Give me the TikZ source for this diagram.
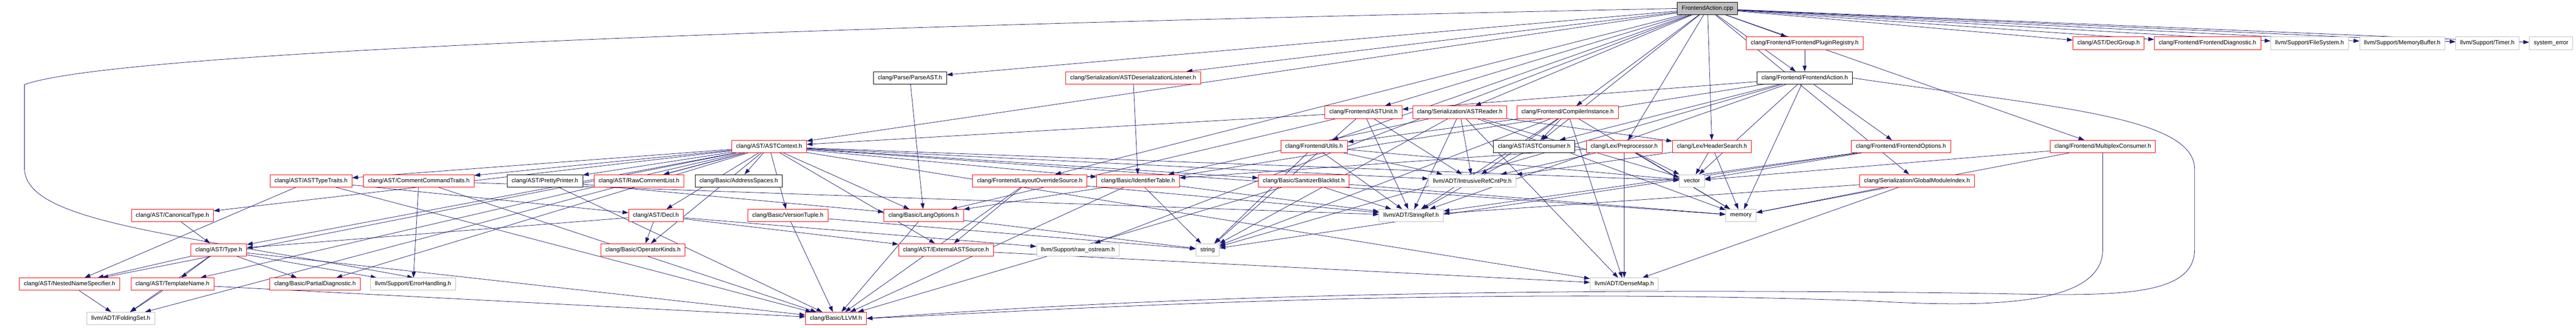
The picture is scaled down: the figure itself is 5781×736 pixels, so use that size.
\documentclass[tikz,border=0pt]{standalone}
\usepackage{fontspec}
\setmainfont{Liberation Sans}
\usetikzlibrary{arrows.meta,backgrounds}

\definecolor{edgeblue}{HTML}{191970}
\definecolor{extgray}{HTML}{BFBFBF}

\tikzset{
  hdr/.style={rectangle, draw=red, line width=1pt, fill=white, minimum height=28pt,
    inner xsep=10pt, inner ysep=0pt, font=\fontsize{13.3pt}{16pt}\selectfont},
  fullhdr/.style={hdr, draw=black},
  exthdr/.style={hdr, draw=extgray},
  srcfile/.style={hdr, draw=black, fill=extgray},
  incl/.style={draw=edgeblue, line width=0.9pt, -{Triangle[length=13pt,width=9pt]}}
}

\begin{document}
\begin{tikzpicture}[x=1pt,y=-1pt]
    \useasboundingbox (0,0) rectangle (5781,736);
    % the source file
    \node[srcfile] (cpp) at (3832,19) {FrontendAction.cpp};
    % row 1
    \node[hdr] (plugreg) at (4050,97) {clang/Frontend/FrontendPluginRegistry.h};
    \node[hdr] (declgrp) at (4732,97) {clang/AST/DeclGroup.h};
    \node[hdr] (fediag) at (4954,97) {clang/Frontend/FrontendDiagnostic.h};
    \node[exthdr] (filesys) at (5183,97) {llvm/Support/FileSystem.h};
    \node[exthdr] (membuf) at (5391,97) {llvm/Support/MemoryBuffer.h};
    \node[exthdr] (timer) at (5582,97) {llvm/Support/Timer.h};
    \node[exthdr] (syserr) at (5725,97) {system\_error};
    % row 2
    \node[fullhdr] (parseast) at (2042,175) {clang/Parse/ParseAST.h};
    \node[hdr] (deserial) at (2543,175) {clang/Serialization/ASTDeserializationListener.h};
    \node[fullhdr] (feaction) at (4050,175) {clang/Frontend/FrontendAction.h};
    % row 3
    \node[hdr] (astunit) at (3060,252) {clang/Frontend/ASTUnit.h};
    \node[hdr] (astreader) at (3276,252) {clang/Serialization/ASTReader.h};
    \node[hdr] (compinst) at (3518,252) {clang/Frontend/CompilerInstance.h};
    % row 4
    \node[hdr] (astctx) at (1726,329) {clang/AST/ASTContext.h};
    \node[hdr] (feutils) at (2949,329) {clang/Frontend/Utils.h};
    \node[fullhdr] (astcons) at (3443,329) {clang/AST/ASTConsumer.h};
    \node[hdr] (pp) at (3645,329) {clang/Lex/Preprocessor.h};
    \node[hdr] (hsearch) at (3842,329) {clang/Lex/HeaderSearch.h};
    \node[hdr] (feopts) at (4266,329) {clang/Frontend/FrontendOptions.h};
    \node[hdr] (multiplex) at (4719,329) {clang/Frontend/MultiplexConsumer.h};
    % row 5
    \node[hdr] (typetraits) at (698,406) {clang/AST/ASTTypeTraits.h};
    \node[hdr] (cmdtraits) at (940,406) {clang/AST/CommentCommandTraits.h};
    \node[fullhdr] (pretty) at (1223,406) {clang/AST/PrettyPrinter.h};
    \node[hdr] (rawcmt) at (1434,406) {clang/AST/RawCommentList.h};
    \node[fullhdr] (addrsp) at (1658,406) {clang/Basic/AddressSpaces.h};
    \node[hdr] (layout) at (2311,406) {clang/Frontend/LayoutOverrideSource.h};
    \node[hdr] (identtab) at (2554,406) {clang/Basic/IdentifierTable.h};
    \node[hdr] (sanbl) at (2926,406) {clang/Basic/SanitizerBlacklist.h};
    \node[exthdr] (refcnt) at (3304,406) {llvm/ADT/IntrusiveRefCntPtr.h};
    \node[exthdr] (vector) at (3797,406) {vector};
    \node[hdr] (gmi) at (4302,406) {clang/Serialization/GlobalModuleIndex.h};
    % row 6
    \node[hdr] (canon) at (387,484) {clang/AST/CanonicalType.h};
    \node[hdr] (decl) at (1472,484) {clang/AST/Decl.h};
    \node[hdr] (version) at (1768,484) {clang/Basic/VersionTuple.h};
    \node[hdr] (langopts) at (2073,484) {clang/Basic/LangOptions.h};
    \node[exthdr] (strref) at (3167,484) {llvm/ADT/StringRef.h};
    \node[exthdr] (memory) at (3907,484) {memory};
    % row 7
    \node[hdr] (type) at (491,561) {clang/AST/Type.h};
    \node[hdr] (opkinds) at (1443,561) {clang/Basic/OperatorKinds.h};
    \node[hdr] (extsrc) at (2123,561) {clang/AST/ExternalASTSource.h};
    \node[exthdr] (rawos) at (2419,561) {llvm/Support/raw\_ostream.h};
    \node[exthdr] (string) at (2710,561) {string};
    % row 8
    \node[hdr] (nns) at (156,638) {clang/AST/NestedNameSpecifier.h};
    \node[hdr] (tmplname) at (387,638) {clang/AST/TemplateName.h};
    \node[hdr] (partdiag) at (707,638) {clang/Basic/PartialDiagnostic.h};
    \node[exthdr] (errhand) at (927,638) {llvm/Support/ErrorHandling.h};
    \node[exthdr] (densemap) at (3645,638) {llvm/ADT/DenseMap.h};
    % row 9
    \node[exthdr] (folding) at (271,715) {llvm/ADT/FoldingSet.h};
    \node[hdr] (llvmh) at (1876,715) {clang/Basic/LLVM.h};
    % draw include edges behind the boxes
    \begin{scope}[on background layer]
        % FrontendAction.cpp
        \foreach \t in {plugreg,declgrp,fediag,filesys,membuf,timer,syserr,parseast,deserial,feaction,astunit,astreader,compinst,astctx,feutils,astcons,pp,hsearch,multiplex,layout,gmi,rawos}
            \draw[incl] (cpp) -- (\t);
        \draw[incl] (cpp.west) .. controls (2500,45) and (300,100) .. (55,190) -- (55,380)
            .. controls (60,500) and (400,525) .. (errhand.north);
        % frontend headers
        \draw[incl] (plugreg) -- (feaction);
        \foreach \t in {astunit,astcons,feopts,langopts,strref,memory,string,vector}
            \draw[incl] (feaction) -- (\t);
        \draw[incl] (feaction.east) .. controls (4600,240) and (4925,260) .. (4925,380) -- (4925,560)
            .. controls (4925,680) and (4700,662) .. (4400,658) .. controls (3000,640) and (2300,690) .. (llvmh.east);
        \foreach \t in {astctx,langopts,refcnt,strref,string}
            \draw[incl] (astunit) -- (\t);
        \foreach \t in {hsearch,identtab,densemap,refcnt,strref,memory,string,vector}
            \draw[incl] (astreader) -- (\t);
        \foreach \t in {astcons,feutils,densemap,refcnt,strref,memory,string}
            \draw[incl] (compinst) -- (\t);
        \foreach \t in {refcnt,strref,string,vector}
            \draw[incl] (feutils) -- (\t);
        \draw[incl] (astcons) -- (strref);
        \foreach \t in {identtab,densemap,refcnt,memory,vector}
            \draw[incl] (pp) -- (\t);
        \foreach \t in {refcnt,memory,vector}
            \draw[incl] (hsearch) -- (\t);
        \foreach \t in {strref,string,vector}
            \draw[incl] (feopts) -- (\t);
        \foreach \t in {memory,vector}
            \draw[incl] (multiplex) -- (\t);
        \draw[incl] (multiplex.south) -- (4719,560) .. controls (4719,690) and (4450,690) .. (4200,676)
            .. controls (3200,640) and (2300,700) .. (llvmh.east);
        \foreach \t in {extsrc,llvmh,strref}
            \draw[incl] (layout) -- (\t);
        \foreach \t in {densemap,strref,memory}
            \draw[incl] (gmi) -- (\t);
        \draw[incl] (parseast) -- (langopts);
        \draw[incl] (deserial) -- (identtab);
        % ASTContext.h
        \foreach \t in {typetraits,cmdtraits,pretty,rawcmt,addrsp,decl,version,canon,type,nns,tmplname,partdiag,folding,opkinds,langopts,identtab,sanbl,refcnt,extsrc,densemap,memory,vector}
            \draw[incl] (astctx) -- (\t);
        % AST and Basic headers
        \foreach \t in {nns,decl,llvmh}
            \draw[incl] (typetraits) -- (\t);
        \foreach \t in {errhand,llvmh,strref}
            \draw[incl] (cmdtraits) -- (\t);
        \foreach \t in {langopts,llvmh}
            \draw[incl] (pretty) -- (\t);
        \foreach \t in {string,strref,llvmh}
            \draw[incl] (identtab) -- (\t);
        \foreach \t in {llvmh,strref,memory}
            \draw[incl] (sanbl) -- (\t);
        \draw[incl] (canon) -- (type);
        \foreach \t in {type,opkinds,extsrc,rawos}
            \draw[incl] (decl) -- (\t);
        \foreach \t in {llvmh,string}
            \draw[incl] (version) -- (\t);
        \foreach \t in {llvmh,string}
            \draw[incl] (langopts) -- (\t);
        \foreach \t in {nns,tmplname,partdiag,errhand,folding,llvmh}
            \draw[incl] (type) -- (\t);
        \draw[incl] (extsrc) -- (densemap);
        \draw[incl] (nns) -- (folding);
        \foreach \t in {folding,llvmh}
            \draw[incl] (tmplname) -- (\t);
    \end{scope}
\end{tikzpicture}
\end{document}
